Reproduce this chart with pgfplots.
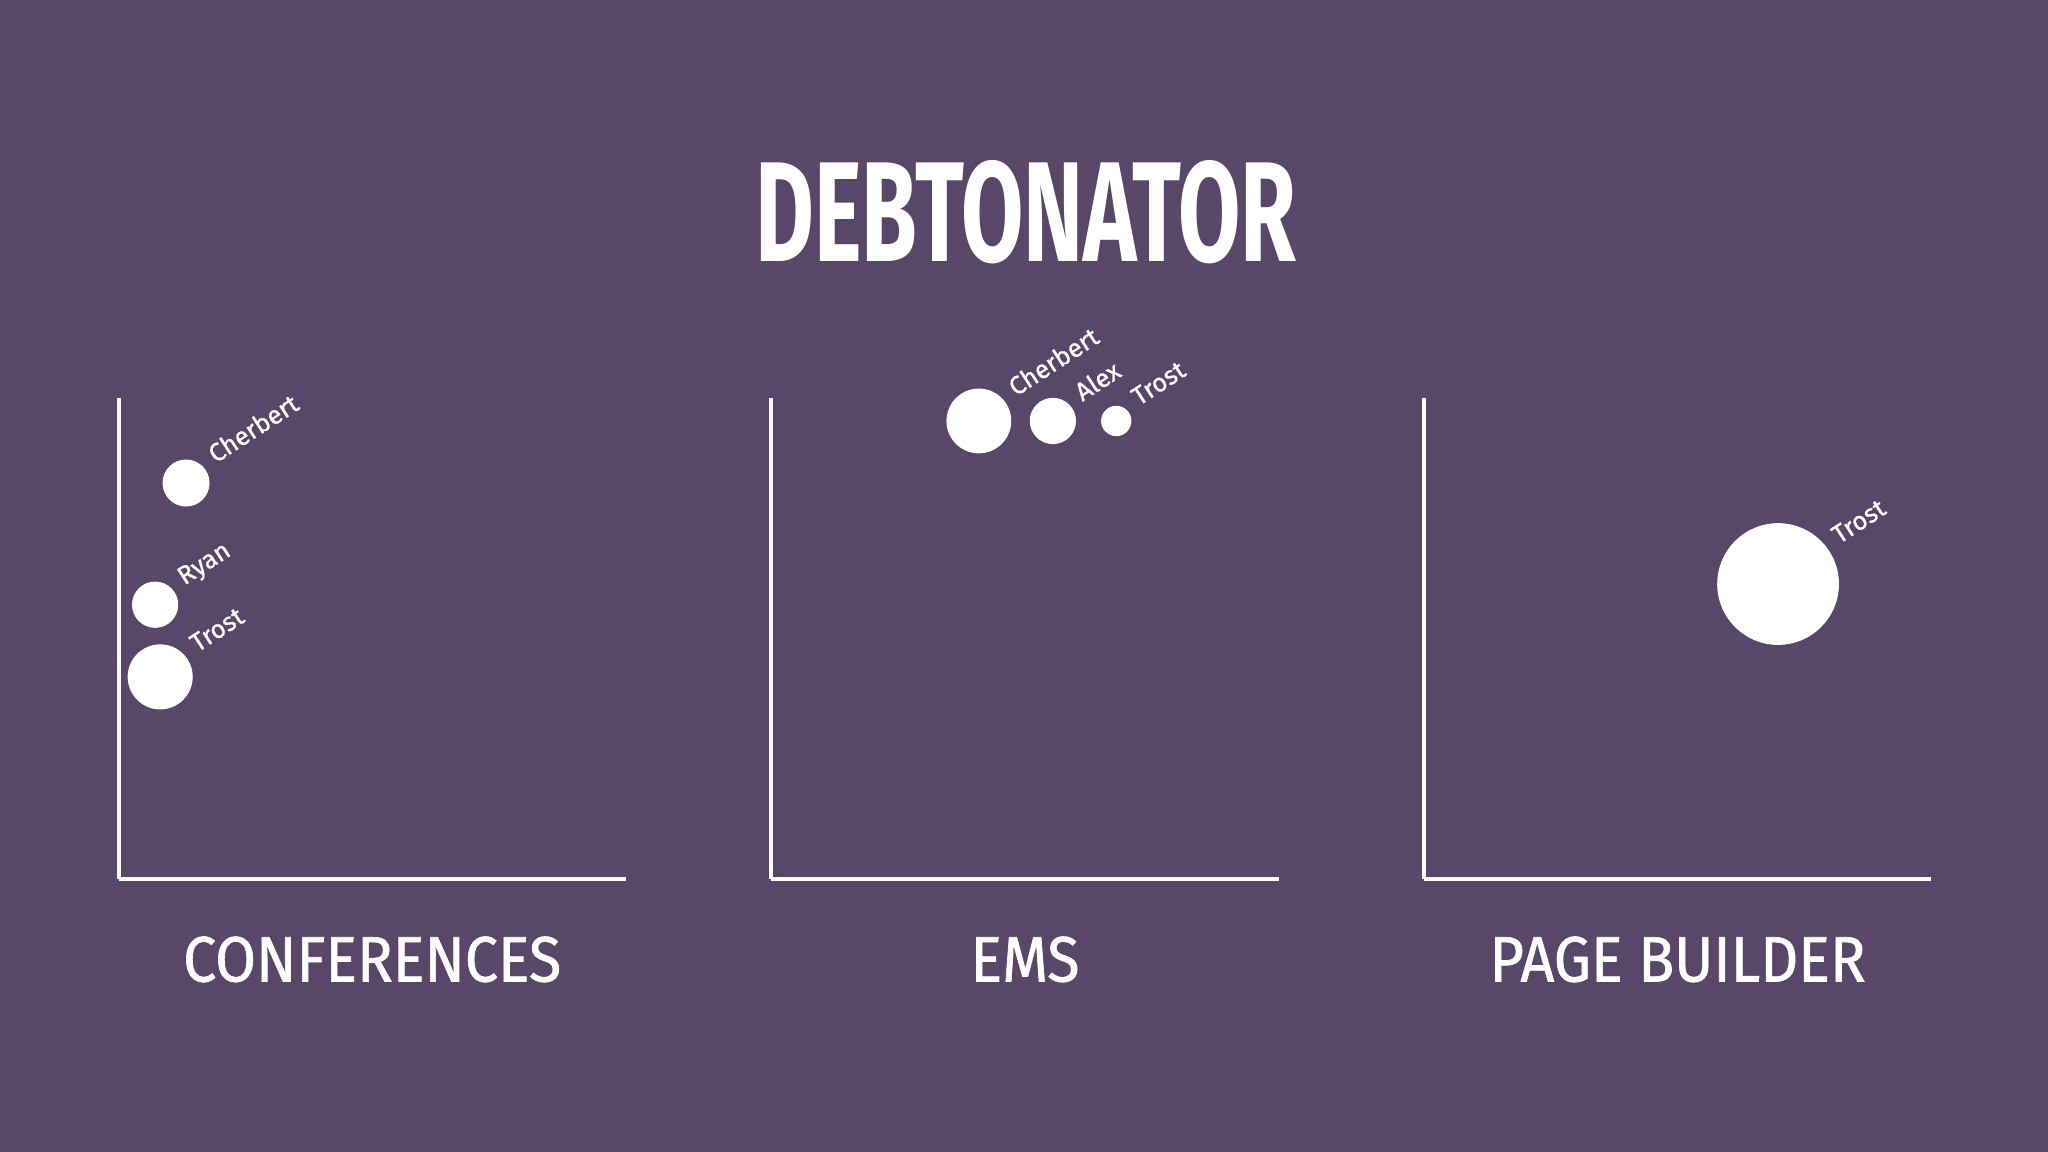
\documentclass[border=0pt]{standalone}
\usepackage{pgfplots}
\pgfplotsset{compat=1.18}
\usepackage{fontspec}
\setmainfont{Fira Sans}
\newfontfamily\titlefont[FakeStretch=0.635]{Fira Sans}
\newfontfamily\catfont[FakeStretch=0.92, FakeBold=1]{Fira Sans}
\newfontfamily\lblfont[FakeBold=1]{Fira Sans}
\definecolor{bgc}{HTML}{584768}

\pgfplotsset{
  panel/.style={
    scale only axis, width=194.15pt, height=184.15pt,
    xmin=0, xmax=100, ymin=0, ymax=100,
    axis x line=bottom, axis y line=left,
    axis line style={-, white, line width=1.5pt},
    xtick=\empty, ytick=\empty,
    clip=false,
    xlabel style={at={(axis description cs:0.5,0)}, anchor=base,
      yshift=-39.1pt, inner sep=0pt, text=white,
      font=\catfont\fontsize{24.6}{28}\selectfont},
  },
  bubbles/.style={
    white, only marks, mark=*, mark options={draw=white, fill=white},
    point meta=\thisrow{r},
    visualization depends on={\thisrow{r}\as\rad},
    visualization depends on={value \thisrow{label}\as\lbl},
    nodes near coords={\lbl},
    scatter,
    scatter/@pre marker code/.append style={/tikz/mark size=\rad},
    every node near coord/.append style={
      font=\lblfont\fontsize{9.8}{11}\selectfont, text=white, inner sep=0pt,
      anchor=base west,
      xshift={0.839*(\rad+4.6)}, yshift={0.545*(\rad+4.6)}, rotate=33},
  },
}

\begin{document}
\begin{tikzpicture}
\path[use as bounding box] (0pt,0pt) rectangle (784pt,441pt);
\fill[bgc] (0pt,0pt) rectangle (784pt,441pt);

\node[anchor=base, inner sep=0pt, text=white]
  at (392.75pt,340.8pt) {\titlefont\bfseries\fontsize{54.5}{60}\selectfont DEBTONATOR};

% conferences
\begin{axis}[panel, at={(45.4pt,104.35pt)}, anchor=south west, xlabel={CONFERENCES}]
\addplot[bubbles] table {
x    y    r     label
13.3 82.4 8.8   Cherbert
7.2  57.1 8.65  Ryan
8.2  42.1 12.25 Trost
};
\end{axis}

% EMS
\begin{axis}[panel, at={(295.3pt,104.35pt)}, anchor=south west, xlabel={EMS}]
\addplot[bubbles] table {
x    y    r     label
40.9 95.3 12.2  Cherbert
55.5 95.3 8.65  Alex
68.0 95.3 5.6   Trost
};
\end{axis}

% page builder
\begin{axis}[panel, at={(545.15pt,104.35pt)}, anchor=south west, xlabel={PAGE BUILDER}]
\addplot[bubbles] table {
x    y    r     label
69.8 61.4 23.1  Trost
};
\end{axis}
\end{tikzpicture}
\end{document}
